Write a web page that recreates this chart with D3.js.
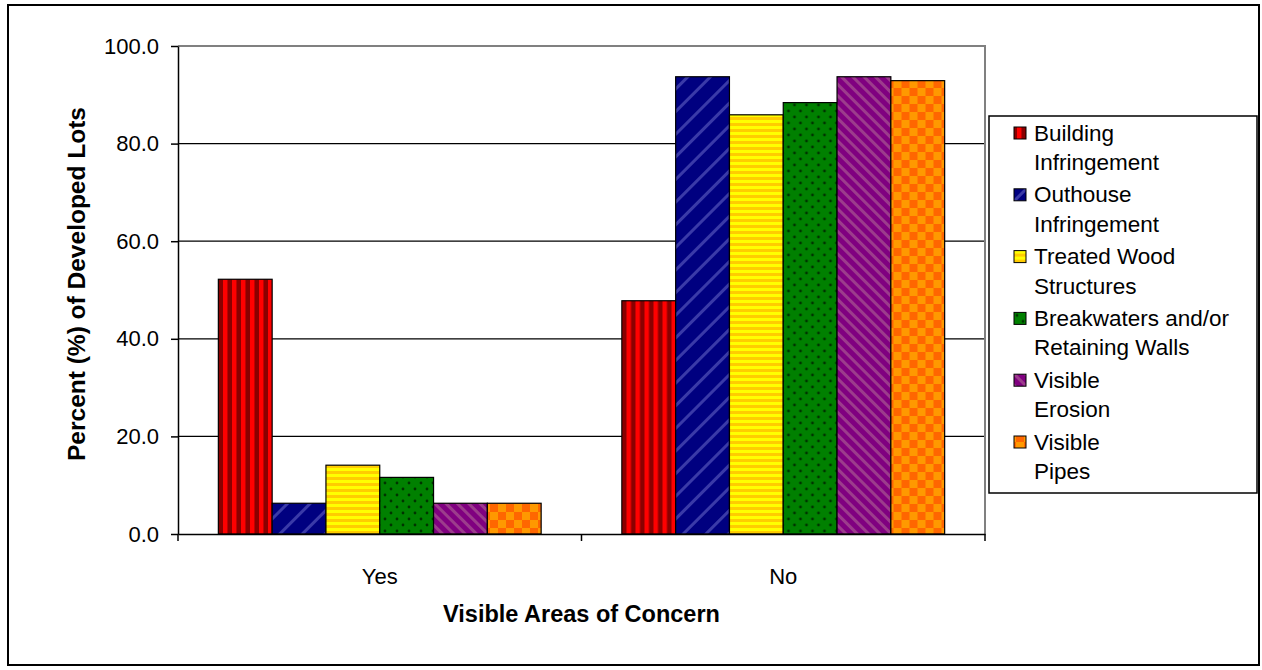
<!DOCTYPE html>
<html>
<head>
<meta charset="utf-8">
<script src="https://cdn.jsdelivr.net/npm/d3@7"></script>
<style>
  html, body { margin: 0; padding: 0; background: #fff; }
  svg { display: block; font-family: "Liberation Sans", Arial, sans-serif; }
</style>
</head>
<body>
<svg id="chart" width="1262" height="670"></svg>
<script>
// Categories on the x axis
const categories = ["Yes", "No"];

// Series (legend entries, two lines each)
const seriesNames = [
  "Building Infringement",
  "Outhouse Infringement",
  "Treated Wood Structures",
  "Breakwaters and/or Retaining Walls",
  "Visible Erosion",
  "Visible Pipes"
];
const seriesLines = [
  ["Building", "Infringement"],
  ["Outhouse", "Infringement"],
  ["Treated Wood", "Structures"],
  ["Breakwaters and/or", "Retaining Walls"],
  ["Visible", "Erosion"],
  ["Visible", "Pipes"]
];

// Percent of developed lots, [Yes, No] per series
const buildingValues    = [52.2, 47.8];
const outhouseValues    = [6.3, 93.7];
const treatedValues     = [14.1, 85.9];
const breakwaterValues  = [11.6, 88.4];
const erosionValues     = [6.3, 93.7];
const pipesValues       = [6.3, 92.9];
const seriesValues = [buildingValues, outhouseValues, treatedValues,
                      breakwaterValues, erosionValues, pipesValues];

// Y axis ticks
const yTicks = [0, 20, 40, 60, 80, 100];

const svg = d3.select("#chart");

// Outer chart frame
svg.append("rect")
  .attr("x", 8).attr("y", 5).attr("width", 1251).attr("height", 660)
  .attr("fill", "#fff").attr("stroke", "#000").attr("stroke-width", 2);

// ---- Fill patterns ----
const defs = svg.append("defs");
function pat(id, w, h, angle) {
  const p = defs.append("pattern").attr("id", id)
    .attr("patternUnits", "userSpaceOnUse").attr("width", w).attr("height", h);
  if (angle) p.attr("patternTransform", `rotate(${angle})`);
  return p;
}
// red vertical stripes
{
  const p = pat("p0", 9, 9);
  p.append("rect").attr("width", 9).attr("height", 9).attr("fill", "#ff0000");
  p.append("rect").attr("x", 5).attr("width", 4).attr("height", 9).attr("fill", "#8a0000");
  p.append("rect").attr("x", 4).attr("width", 1).attr("height", 9).attr("fill", "#c00000");
}
// navy with wide light diagonal stripes
{
  const p = pat("p1", 16, 16, 45);
  p.append("rect").attr("width", 16).attr("height", 16).attr("fill", "#000080");
  p.append("rect").attr("x", 0).attr("width", 3).attr("height", 16).attr("fill", "#3a3aa8");
}
// yellow horizontal stripes
{
  const p = pat("p2", 6, 6);
  p.append("rect").attr("width", 6).attr("height", 6).attr("fill", "#ffff00");
  p.append("rect").attr("y", 3).attr("width", 6).attr("height", 3).attr("fill", "#ffcc00");
}
// green with black dots
{
  const p = pat("p3", 12, 12);
  p.append("rect").attr("width", 12).attr("height", 12).attr("fill", "#008000");
  p.append("circle").attr("cx", 3).attr("cy", 3).attr("r", 1.4).attr("fill", "#003300");
  p.append("circle").attr("cx", 9).attr("cy", 9).attr("r", 1.4).attr("fill", "#003300");
}
// purple with fine reverse diagonal stripes
{
  const p = pat("p4", 8, 8, -45);
  p.append("rect").attr("width", 8).attr("height", 8).attr("fill", "#800080");
  p.append("rect").attr("x", 0).attr("width", 3).attr("height", 8).attr("fill", "#9c3c8c");
}
// orange checkerboard
{
  const p = pat("p5", 16, 16);
  p.append("rect").attr("width", 16).attr("height", 16).attr("fill", "#ff9900");
  p.append("rect").attr("x", 0).attr("y", 0).attr("width", 8).attr("height", 8).attr("fill", "#ff6600");
  p.append("rect").attr("x", 8).attr("y", 8).attr("width", 8).attr("height", 8).attr("fill", "#ff6600");
}

// ---- Scales ----
const plot = { left: 178, right: 985, top: 46, bottom: 534 };
const x0 = d3.scaleBand().domain(categories).range([plot.left, plot.right]).padding(0);
const groupGap = x0.bandwidth() * 0.1;
const x1 = d3.scaleBand().domain(d3.range(seriesNames.length))
  .range([groupGap, x0.bandwidth() - groupGap]).padding(0);
const y = d3.scaleLinear().domain([0, 100]).range([plot.bottom, plot.top]);

// Gridlines
svg.append("g").selectAll("line")
  .data(yTicks.filter(t => t > 0 && t < 100))
  .join("line")
  .attr("x1", plot.left).attr("x2", plot.right)
  .attr("y1", d => y(d)).attr("y2", d => y(d))
  .attr("stroke", "#000").attr("stroke-width", 1.3);

// Plot area frame (top and right) in grey
svg.append("path")
  .attr("d", `M${plot.left},${y(100)}H${plot.right}V${plot.bottom}`)
  .attr("fill", "none").attr("stroke", "#808080").attr("stroke-width", 2);

// Bars
const groups = svg.append("g").selectAll("g")
  .data(categories)
  .join("g")
  .attr("transform", d => `translate(${x0(d)},0)`);
groups.selectAll("rect")
  .data((c, ci) => seriesValues.map((vals, si) => ({ si, v: vals[ci] })))
  .join("rect")
  .attr("x", d => x1(d.si))
  .attr("y", d => y(d.v))
  .attr("width", x1.bandwidth())
  .attr("height", d => y(0) - y(d.v))
  .attr("fill", d => `url(#p${d.si})`)
  .attr("stroke", "#000").attr("stroke-width", 1.2);

// Y axis
const yAxis = svg.append("g")
  .attr("transform", `translate(${plot.left},0)`)
  .call(d3.axisLeft(y).tickValues(yTicks).tickFormat(d3.format(".1f"))
    .tickSize(7).tickPadding(12).tickSizeOuter(0));
yAxis.select(".domain").attr("stroke", "#000").attr("stroke-width", 1.5);
yAxis.selectAll(".tick line").attr("stroke", "#000").attr("stroke-width", 1.5);
yAxis.selectAll("text").attr("font-size", 22).attr("fill", "#000")
  .attr("font-family", "Liberation Sans, Arial, sans-serif");

// X axis: category labels at centres, tick marks at category boundaries
const xAxis = svg.append("g")
  .attr("transform", `translate(0,${plot.bottom})`)
  .call(d3.axisBottom(x0).tickSize(0).tickPadding(34).tickSizeOuter(0));
xAxis.select(".domain").attr("stroke", "#000").attr("stroke-width", 1.5);
xAxis.selectAll("text").attr("font-size", 22).attr("fill", "#000")
  .attr("font-family", "Liberation Sans, Arial, sans-serif");
const boundaries = categories.map(c => x0(c)).concat([x0(categories[categories.length - 1]) + x0.bandwidth()]);
xAxis.selectAll(".bound").data(boundaries).join("line").attr("class", "bound")
  .attr("x1", d => d).attr("x2", d => d).attr("y1", 0).attr("y2", 7)
  .attr("stroke", "#000").attr("stroke-width", 1.5);

// Axis titles
svg.append("text")
  .attr("transform", `translate(76,284) rotate(-90)`)
  .attr("text-anchor", "middle").attr("dominant-baseline", "central")
  .attr("font-weight", "bold").attr("font-size", 24.5)
  .text("Percent (%) of Developed Lots");
svg.append("text")
  .attr("x", (plot.left + plot.right) / 2).attr("y", 614)
  .attr("text-anchor", "middle").attr("dominant-baseline", "central")
  .attr("font-weight", "bold").attr("font-size", 23.5)
  .text("Visible Areas of Concern");

// Legend
const legend = svg.append("g");
legend.append("rect")
  .attr("x", 989).attr("y", 116).attr("width", 268).attr("height", 377)
  .attr("fill", "#fff").attr("stroke", "#000").attr("stroke-width", 1.5);
const items = legend.selectAll(".item").data(seriesLines).join("g")
  .attr("class", "item")
  .attr("transform", (d, i) => `translate(0,${133 + i * 61.8})`);
items.append("rect")
  .attr("x", 1014).attr("y", -6).attr("width", 12).attr("height", 12)
  .attr("fill", (d, i) => `url(#p${i})`).attr("stroke", "#000").attr("stroke-width", 1);
items.each(function (lines) {
  const g = d3.select(this);
  lines.forEach((t, k) => {
    g.append("text").attr("x", 1034).attr("y", k * 29.5)
      .attr("dominant-baseline", "central").attr("font-size", 22.5).text(t);
  });
});
</script>
</body>
</html>
